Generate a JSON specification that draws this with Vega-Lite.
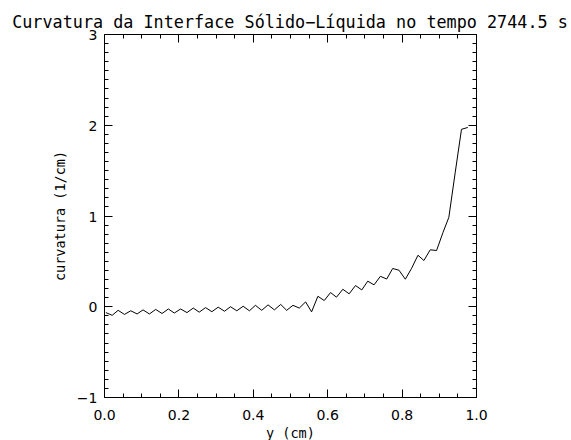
{
  "$schema": "https://vega.github.io/schema/vega-lite/v6.json",
  "width": 372,
  "height": 363,
  "autosize": {"type": "none"},
  "padding": {"left": 104, "top": 34, "right": 95, "bottom": 43},
  "background": "white",
  "config": {
    "view": {"stroke": null},
    "font": "DejaVu Sans",
    "axis": {
      "domainColor": "black",
      "domainWidth": 1,
      "tickColor": "black",
      "tickWidth": 1,
      "labelColor": "black",
      "titleColor": "black",
      "grid": false,
      "labelFontSize": 14,
      "titleFontSize": 13.5,
      "titleFontWeight": "normal",
      "labelFont": "DejaVu Sans",
      "titleFont": "DejaVu Sans Mono",
      "labelOverlap": false,
      "labelFlush": false
    }
  },
  "title": {
    "text": "Curvatura da Interface Sólido−Líquida no tempo 2744.5 s",
    "fontSize": 16.8,
    "fontWeight": "normal",
    "font": "DejaVu Sans Mono",
    "color": "black",
    "baseline": "alphabetic",
    "offset": -16
  },
  "data": {
    "values": [
      {"x": 0.005, "c": -0.07},
      {"x": 0.022, "c": -0.10},
      {"x": 0.038, "c": -0.045},
      {"x": 0.055, "c": -0.09},
      {"x": 0.072, "c": -0.05},
      {"x": 0.089, "c": -0.085},
      {"x": 0.105, "c": -0.04},
      {"x": 0.122, "c": -0.085},
      {"x": 0.139, "c": -0.035},
      {"x": 0.156, "c": -0.08},
      {"x": 0.173, "c": -0.03},
      {"x": 0.189, "c": -0.075},
      {"x": 0.206, "c": -0.03},
      {"x": 0.223, "c": -0.07},
      {"x": 0.240, "c": -0.02},
      {"x": 0.256, "c": -0.065},
      {"x": 0.273, "c": -0.015},
      {"x": 0.290, "c": -0.06},
      {"x": 0.307, "c": -0.01},
      {"x": 0.324, "c": -0.055},
      {"x": 0.340, "c": -0.005},
      {"x": 0.357, "c": -0.05},
      {"x": 0.374, "c": 0.0},
      {"x": 0.391, "c": -0.05},
      {"x": 0.407, "c": 0.01},
      {"x": 0.424, "c": -0.045},
      {"x": 0.441, "c": 0.015},
      {"x": 0.458, "c": -0.04},
      {"x": 0.475, "c": 0.02},
      {"x": 0.491, "c": -0.045},
      {"x": 0.508, "c": 0.01},
      {"x": 0.525, "c": -0.02},
      {"x": 0.542, "c": 0.048},
      {"x": 0.558, "c": -0.062},
      {"x": 0.575, "c": 0.11},
      {"x": 0.592, "c": 0.063},
      {"x": 0.609, "c": 0.151},
      {"x": 0.625, "c": 0.10},
      {"x": 0.642, "c": 0.187},
      {"x": 0.659, "c": 0.137},
      {"x": 0.676, "c": 0.228},
      {"x": 0.693, "c": 0.18},
      {"x": 0.709, "c": 0.276},
      {"x": 0.726, "c": 0.236},
      {"x": 0.743, "c": 0.33},
      {"x": 0.760, "c": 0.30},
      {"x": 0.776, "c": 0.416},
      {"x": 0.793, "c": 0.397},
      {"x": 0.810, "c": 0.298},
      {"x": 0.827, "c": 0.419},
      {"x": 0.844, "c": 0.562},
      {"x": 0.860, "c": 0.504},
      {"x": 0.877, "c": 0.622},
      {"x": 0.894, "c": 0.614},
      {"x": 0.911, "c": 0.81},
      {"x": 0.927, "c": 0.98},
      {"x": 0.944, "c": 1.47},
      {"x": 0.961, "c": 1.95},
      {"x": 0.978, "c": 1.97}
    ]
  },
  "layer": [
    {
      "mark": {"type": "line", "color": "black", "strokeWidth": 1},
      "encoding": {
        "x": {
          "field": "x", "type": "quantitative",
          "scale": {"domain": [0, 1], "nice": false, "zero": false},
          "axis": {
            "orient": "bottom",
            "title": "y (cm)",
            "values": [0,0.05,0.1,0.15,0.2,0.25,0.3,0.35,0.4,0.45,0.5,0.55,0.6,0.65,0.7,0.75,0.8,0.85,0.9,0.95,1],
            "tickSize": {"condition": {"test": "abs(datum.value*5 - round(datum.value*5)) < 0.001", "value": -8}, "value": -4},
            "labelExpr": "abs(datum.value*5 - round(datum.value*5)) < 0.001 ? format(datum.value, '.1f') : ''",
            "labelPadding": 19,
            "titlePadding": 0
          }
        },
        "y": {
          "field": "c", "type": "quantitative",
          "scale": {"domain": [-1, 3], "nice": false, "zero": false},
          "axis": {
            "orient": "left",
            "title": "curvatura (1/cm)",
            "values": [-1,-0.9,-0.8,-0.7,-0.6,-0.5,-0.4,-0.3,-0.2,-0.1,0,0.1,0.2,0.3,0.4,0.5,0.6,0.7,0.8,0.9,1,1.1,1.2,1.3,1.4,1.5,1.6,1.7,1.8,1.9,2,2.1,2.2,2.3,2.4,2.5,2.6,2.7,2.8,2.9,3],
            "tickSize": {"condition": {"test": "abs(datum.value - round(datum.value)) < 0.001", "value": -8}, "value": -4},
            "labelExpr": "abs(datum.value - round(datum.value)) < 0.001 ? format(datum.value, 'd') : ''",
            "labelPadding": 15,
            "labelOffset": 1.5,
            "titlePadding": 9
          }
        }
      }
    },
    {
      "mark": {"type": "line", "color": "black", "strokeWidth": 1, "opacity": 0},
      "encoding": {
        "x": {
          "field": "x", "type": "quantitative",
          "scale": {"domain": [0, 1], "nice": false, "zero": false},
          "axis": {
            "orient": "top",
            "title": null,
            "labels": false,
            "values": [0,0.05,0.1,0.15,0.2,0.25,0.3,0.35,0.4,0.45,0.5,0.55,0.6,0.65,0.7,0.75,0.8,0.85,0.9,0.95,1],
            "tickSize": {"condition": {"test": "abs(datum.value*5 - round(datum.value*5)) < 0.001", "value": -8}, "value": -4}
          }
        },
        "y": {
          "field": "c", "type": "quantitative",
          "scale": {"domain": [-1, 3], "nice": false, "zero": false},
          "axis": {
            "orient": "right",
            "title": null,
            "labels": false,
            "values": [-1,-0.9,-0.8,-0.7,-0.6,-0.5,-0.4,-0.3,-0.2,-0.1,0,0.1,0.2,0.3,0.4,0.5,0.6,0.7,0.8,0.9,1,1.1,1.2,1.3,1.4,1.5,1.6,1.7,1.8,1.9,2,2.1,2.2,2.3,2.4,2.5,2.6,2.7,2.8,2.9,3],
            "tickSize": {"condition": {"test": "abs(datum.value - round(datum.value)) < 0.001", "value": -8}, "value": -4}
          }
        }
      }
    }
  ],
  "resolve": {"axis": {"x": "independent", "y": "independent"}}
}
